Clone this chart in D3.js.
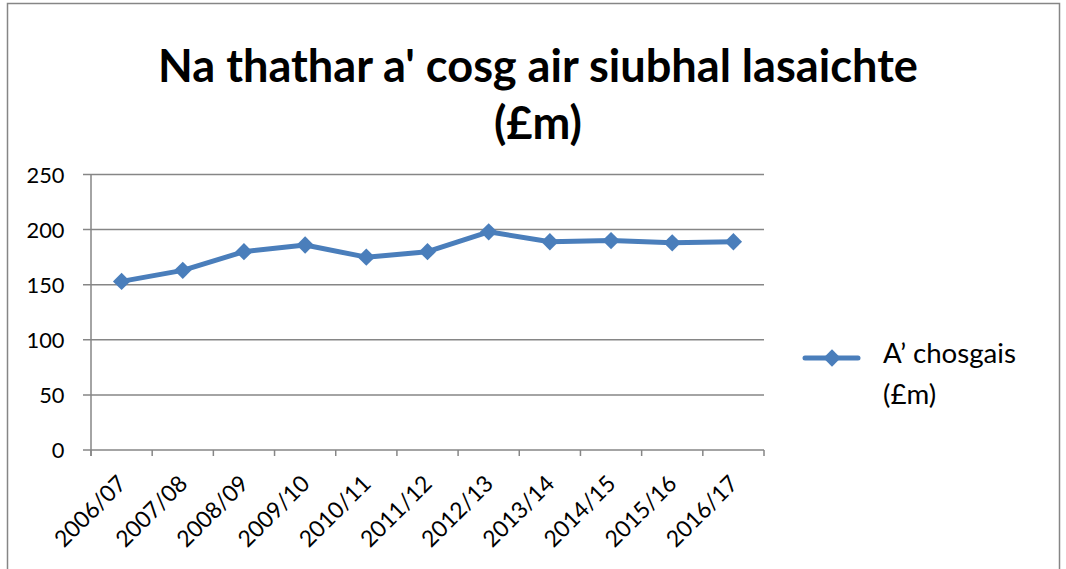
<!DOCTYPE html>
<html>
<head>
<meta charset="utf-8">
<script src="https://cdn.jsdelivr.net/npm/d3@7"></script>
<style>
  body { margin: 0; background: #fff; }
  text { font-family: Lato, "Open Sans", "Liberation Sans", sans-serif; fill: #000; }
</style>
</head>
<body>
<div id="chart"></div>
<script>
// data
const years = ["2006/07","2007/08","2008/09","2009/10","2010/11","2011/12","2012/13","2013/14","2014/15","2015/16","2016/17"];
const costs = [153, 163, 180, 186, 175, 180, 198, 189, 190, 188, 189];
const yTicks = [0, 50, 100, 150, 200, 250];
const titleLines = ["Na thathar a' cosg air siubhal lasaichte", "(£m)"];
const legendLines = ["A’ chosgais", "(£m)"];

const W = 1066, H = 569;
const blue = "#4a7ebb", grey = "#868686";

// shrink/grow a text selection so its first node is `target` px wide
function fitWidth(sel, size, target) {
    const w = sel.nodes()[0].getComputedTextLength();
    sel.style("font-size", (size * target / w) + "px");
}

const svg = d3.select("#chart").append("svg")
    .attr("width", W).attr("height", H);

// outer border of chart area
svg.append("rect")
    .attr("x", 7.5).attr("y", 3.5)
    .attr("width", 1052).attr("height", 580)
    .attr("fill", "none").attr("stroke", grey).attr("stroke-width", 1.5);

//scales
const x = d3.scaleBand().domain(years).range([91, 764]);
const y = d3.scaleLinear().domain([0, 250]).range([450, 174.5]);

// gridlines
svg.append("g").selectAll("line")
    .data(yTicks)
    .join("line")
    .attr("x1", 83).attr("x2", 764)
    .attr("y1", d => y(d)).attr("y2", d => y(d))
    .attr("stroke", grey).attr("stroke-width", 1.5);

// y axis line
svg.append("line")
    .attr("x1", 91).attr("x2", 91)
    .attr("y1", y(250)).attr("y2", y(0) + 6)
    .attr("stroke", grey).attr("stroke-width", 1.5);

// y labels
const yLab = svg.append("g").selectAll("text")
    .data(yTicks)
    .join("text")
    .attr("x", 64.5).attr("y", d => y(d) + 8)
    .attr("text-anchor", "end")
    .style("font-size", "22px")
    .text(d => d);
fitWidth(yLab.filter(d => d === 250), 22, 38);
yLab.style("font-size", yLab.filter(d => d === 250).style("font-size"));

// x ticks at band edges
const edges = years.map(d => x(d)).concat([x.range()[1]]);
svg.append("g").selectAll("line")
    .data(edges)
    .join("line")
    .attr("x1", d => d).attr("x2", d => d)
    .attr("y1", y(0)).attr("y2", y(0) + 6)
    .attr("stroke", grey).attr("stroke-width", 1.5);

// x labels, rotated
const xLab = svg.append("g").selectAll("text")
    .data(years)
    .join("text")
    .attr("text-anchor", "end")
    .attr("transform", d => `translate(${x(d) + x.bandwidth() / 2 + 6},${y(0) + 35}) rotate(-45)`)
    .style("font-size", "22px")
    .text(d => d);
fitWidth(xLab, 22, 90);

// line
const line = d3.line()
    .x((d, i) => x(years[i]) + x.bandwidth() / 2)
    .y(d => y(d));

svg.append("path")
    .datum(costs)
    .attr("fill", "none")
    .attr("stroke", blue)
    .attr("stroke-width", 5)
    .attr("stroke-linejoin", "round")
    .attr("d", line);

// diamond markers
const diamond = d3.symbol().type(d3.symbolSquare).size(150);
svg.append("g").selectAll("path")
    .data(costs)
    .join("path")
    .attr("d", diamond)
    .attr("transform", (d, i) => `translate(${x(years[i]) + x.bandwidth() / 2},${y(d)}) rotate(45)`)
    .attr("fill", blue);

// title
const title = svg.append("g").selectAll("text")
    .data(titleLines)
    .join("text")
    .attr("x", 538)
    .attr("y", (d, i) => 82 + i * 57)
    .attr("text-anchor", "middle")
    .style("font-size", "40px")
    .style("font-weight", "bold")
    .text(d => d);
fitWidth(title, 40, 760);

// legend
const legend = svg.append("g").attr("transform", "translate(803,358)");
legend.append("line")
    .attr("x1", 2).attr("x2", 55)
    .attr("stroke", blue).attr("stroke-width", 5)
    .attr("stroke-linecap", "round");
legend.append("path")
    .attr("d", diamond)
    .attr("transform", "translate(29,0) rotate(45)")
    .attr("fill", blue);
const legText = legend.selectAll("text")
    .data(legendLines)
    .join("text")
    .attr("x", 80)
    .attr("y", (d, i) => 5 + i * 41)
    .style("font-size", "24px")
    .text(d => d);
fitWidth(legText, 24, 133);
</script>
</body>
</html>
